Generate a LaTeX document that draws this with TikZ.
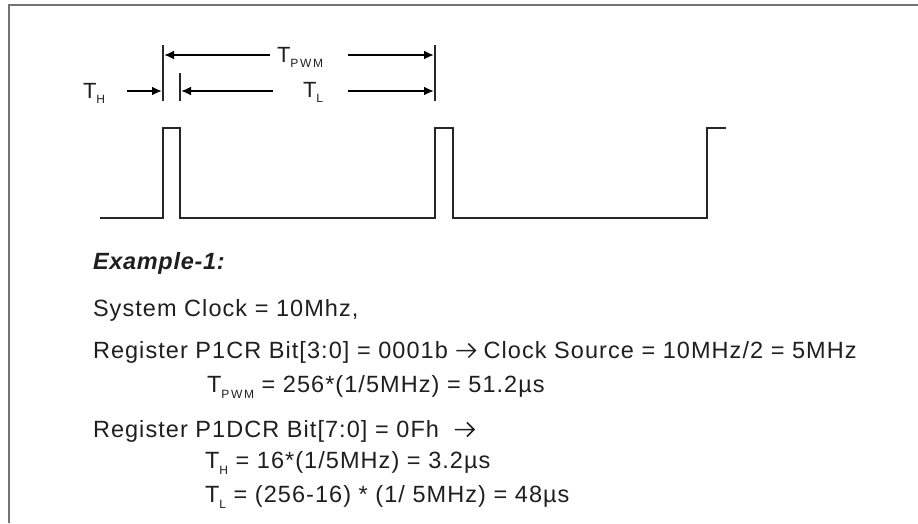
\documentclass[tikz,border=0pt]{standalone}
\usepackage{fontspec}
\setmainfont{Liberation Sans}
\usetikzlibrary{arrows.meta}
\newcommand{\mysub}[1]{\raisebox{-0.27em}{\fontsize{12}{12}\selectfont\addfontfeatures{LetterSpace=14}#1}}
\newcommand{\rarr}{\tikz[x=1pt,y=1pt,baseline=0pt]{\draw[line width=1.5pt,line cap=butt,line join=miter] (0,7.5) -- (19,7.5) (12,14.5) -- (19,7.5) -- (12,0.5);}}
\tikzset{
  txt/.style={anchor=base west, inner sep=0pt, outer sep=0pt, text=black!88, font=\fontsize{23.5}{23.5}\selectfont\addfontfeatures{LetterSpace=4.5}},
  lbl/.style={anchor=base west, inner sep=0pt, outer sep=0pt, text=black!88, font=\fontsize{22}{22}\selectfont},
  wave/.style={line width=1.6pt, black!85},
  bar/.style={line width=1.4pt, black!85},
  dimarrow/.style={line width=2pt, black, -{Latex[length=10pt,width=9pt]}},
  frame/.style={line width=2.5pt, black!55}
}
\begin{document}
\begin{tikzpicture}[x=1pt,y=-1pt]
\useasboundingbox (0,0) rectangle (918,523);
% frame (top and left edges)
\coordinate (fb) at (9,523);
\coordinate (fc) at (9,5);
\coordinate (fr) at (918,5);
\draw[frame] (fb) -- (fc) -- (fr);

% waveform
\coordinate (w0) at (100,218);
\coordinate (w1) at (163,218);
\coordinate (w2) at (163,128);
\coordinate (w3) at (180,128);
\coordinate (w4) at (180,218);
\coordinate (w5) at (435,218);
\coordinate (w6) at (435,128);
\coordinate (w7) at (453,128);
\coordinate (w8) at (453,218);
\coordinate (w9) at (707,218);
\coordinate (w10) at (707,128);
\coordinate (w11) at (726,128);
\draw[wave] (w0) -- (w1) -- (w2) -- (w3) -- (w4) -- (w5) -- (w6) -- (w7) -- (w8) -- (w9) -- (w10) -- (w11);

% dimension bars
\coordinate (b1t) at (163,45);
\coordinate (b1b) at (163,101);
\coordinate (b2t) at (180,73);
\coordinate (b2b) at (180,101);
\coordinate (b3t) at (435,45);
\coordinate (b3b) at (435,101);
\draw[bar] (b1t) -- (b1b);
\draw[bar] (b2t) -- (b2b);
\draw[bar] (b3t) -- (b3b);

% labels
\node[lbl] (tpwm) at (277,62) {T\mysub{PWM}};
\node[lbl] (tl) at (303,97) {T\mysub{L}};
\node[lbl] (th) at (83,98) {T\mysub{H}};

% T_PWM arrows
\coordinate (p1s) at (270,55);
\coordinate (p1e) at (164,55);
\coordinate (p2s) at (348,55);
\coordinate (p2e) at (434,55);
\draw[dimarrow] (p1s) -- (p1e);
\draw[dimarrow] (p2s) -- (p2e);
% T_L arrows
\coordinate (l1s) at (273,91);
\coordinate (l1e) at (181,91);
\coordinate (l2s) at (348,91);
\coordinate (l2e) at (434,91);
\draw[dimarrow] (l1s) -- (l1e);
\draw[dimarrow] (l2s) -- (l2e);
% T_H arrow
\coordinate (h1s) at (127,91);
\coordinate (h1e) at (162,91);
\draw[dimarrow] (h1s) -- (h1e);

% example text
\node[txt, font=\fontsize{23.5}{23.5}\selectfont\bfseries\itshape\addfontfeatures{LetterSpace=3}] (ex) at (93,269) {Example-1:};
\node[txt] (l1) at (93,316) {System Clock = 10Mhz,};
\node[txt] (l2) at (93,358) {Register P1CR Bit[3:0] = 0001b \rarr\ Clock Source = 10MHz/2 = 5MHz};
\node[txt] (l3) at (207,392) {T\mysub{PWM} = 256*(1/5MHz) = 51.2µs};
\node[txt] (l4) at (93,437) {Register P1DCR Bit[7:0] = 0Fh\ \ \rarr};
\node[txt] (l5) at (205,468) {T\mysub{H} = 16*(1/5MHz) = 3.2µs};
\node[txt] (l6) at (205,502) {T\mysub{L} = (256-16) * (1/ 5MHz) = 48µs};
\end{tikzpicture}
\end{document}
